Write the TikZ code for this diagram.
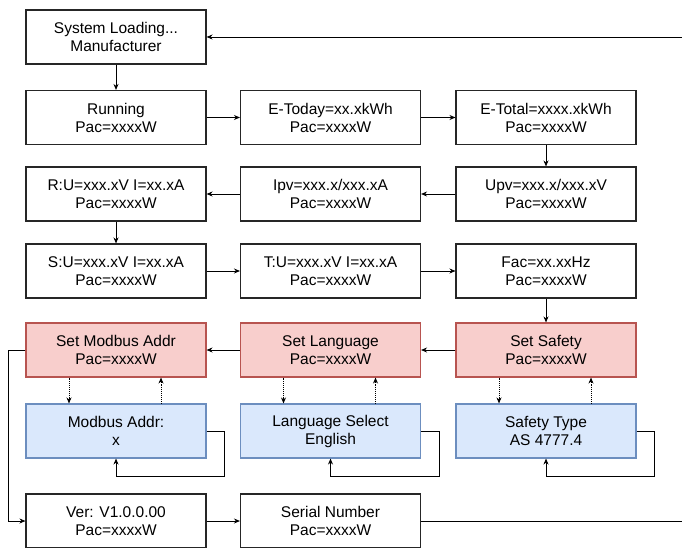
\documentclass[tikz,border=0pt]{standalone}
\usepackage{fontspec}
\setmainfont{Liberation Sans}
\usepackage{tikz}
\usetikzlibrary{arrows.meta,positioning}
\definecolor{redfill}{HTML}{F8CECC}
\definecolor{redline}{HTML}{B85450}
\definecolor{bluefill}{HTML}{DAE8FC}
\definecolor{blueline}{HTML}{6C8EBF}

\tikzset{
  menu/.style={draw=black!85, line width=1.1pt, rectangle, minimum width=180pt, minimum height=54pt,
    align=center, inner sep=0pt, font=\fontsize{15.5}{18}\selectfont},
  setmenu/.style={menu, draw=redline, fill=redfill},
  selmenu/.style={menu, draw=blueline, fill=bluefill},
  flow/.style={-{Stealth[length=6pt,width=5pt]}, line width=0.9pt},
  subflow/.style={flow, densely dotted}
}

\begin{document}
\begin{tikzpicture}[x=1pt,y=-1pt]
    \useasboundingbox (0,0) rectangle (682,548);
    % main menu
    \node[menu] (sysload) at (116,37) {System Loading...\\Manufacturer};
    \node[menu] (running) at (116,117.5) {Running\\Pac=xxxxW};
    \node[menu] (etoday) at (330.5,117.5) {E-Today=xx.xkWh\\Pac=xxxxW};
    \node[menu] (etotal) at (546,117.5) {E-Total=xxxx.xkWh\\Pac=xxxxW};
    \node[menu] (rphase) at (116,194) {R:U=xxx.xV I=xx.xA\\Pac=xxxxW};
    \node[menu] (ipv) at (330.5,194) {Ipv=xxx.x/xxx.xA\\Pac=xxxxW};
    \node[menu] (upv) at (546,194) {Upv=xxx.x/xxx.xV\\Pac=xxxxW};
    \node[menu] (sphase) at (116,271) {S:U=xxx.xV I=xx.xA\\Pac=xxxxW};
    \node[menu] (tphase) at (330.5,271) {T:U=xxx.xV I=xx.xA\\Pac=xxxxW};
    \node[menu] (fac) at (546,271) {Fac=xx.xxHz\\Pac=xxxxW};
    % settings
    \node[setmenu] (setmodbus) at (116,350) {Set Modbus Addr\\Pac=xxxxW};
    \node[setmenu] (setlang) at (330.5,350) {Set Language\\Pac=xxxxW};
    \node[setmenu] (setsafety) at (546,350) {Set Safety\\Pac=xxxxW};
    \node[selmenu] (modbusaddr) at (116,431) {Modbus Addr:\\x};
    \node[selmenu] (langsel) at (330.5,431) {Language Select\\English};
    \node[selmenu] (safetytype) at (546,431) {Safety Type\\AS 4777.4};
    \node[menu] (ver) at (116,521) {Ver: V1.0.0.00\\Pac=xxxxW};
    \node[menu] (serial) at (330.5,521) {Serial Number\\Pac=xxxxW};

    \draw[flow] (sysload) -- (running);
    \draw[flow] (running) -- (etoday);
    \draw[flow] (etoday) -- (etotal);
    \draw[flow] (etotal) -- (upv);
    \draw[flow] (upv) -- (ipv);
    \draw[flow] (ipv) -- (rphase);
    \draw[flow] (rphase) -- (sphase);
    \draw[flow] (sphase) -- (tphase);
    \draw[flow] (tphase) -- (fac);
    \draw[flow] (fac) -- (setsafety);
    \draw[flow] (setsafety) -- (setlang);
    \draw[flow] (setlang) -- (setmodbus);
    \draw[flow] (setmodbus.west) -| (8,521) -- (ver.west);
    \draw[flow] (ver) -- (serial);
    \draw[flow] (serial.east) -- (684,521) -- (684,37) -- (sysload.east);

    % enter / leave / cycle
    \foreach \s/\t in {setmodbus/modbusaddr, setlang/langsel, setsafety/safetytype} {
      \draw[subflow] ([xshift=-47pt]\s.south) -- ([xshift=-47pt]\t.north);
      \draw[subflow] ([xshift=45pt]\t.north) -- ([xshift=45pt]\s.south);
      \draw[flow] (\t.east) -- ++(18,0) |- ([yshift=-18pt]\t.south) -- (\t.south);
    }
\end{tikzpicture}
\end{document}
